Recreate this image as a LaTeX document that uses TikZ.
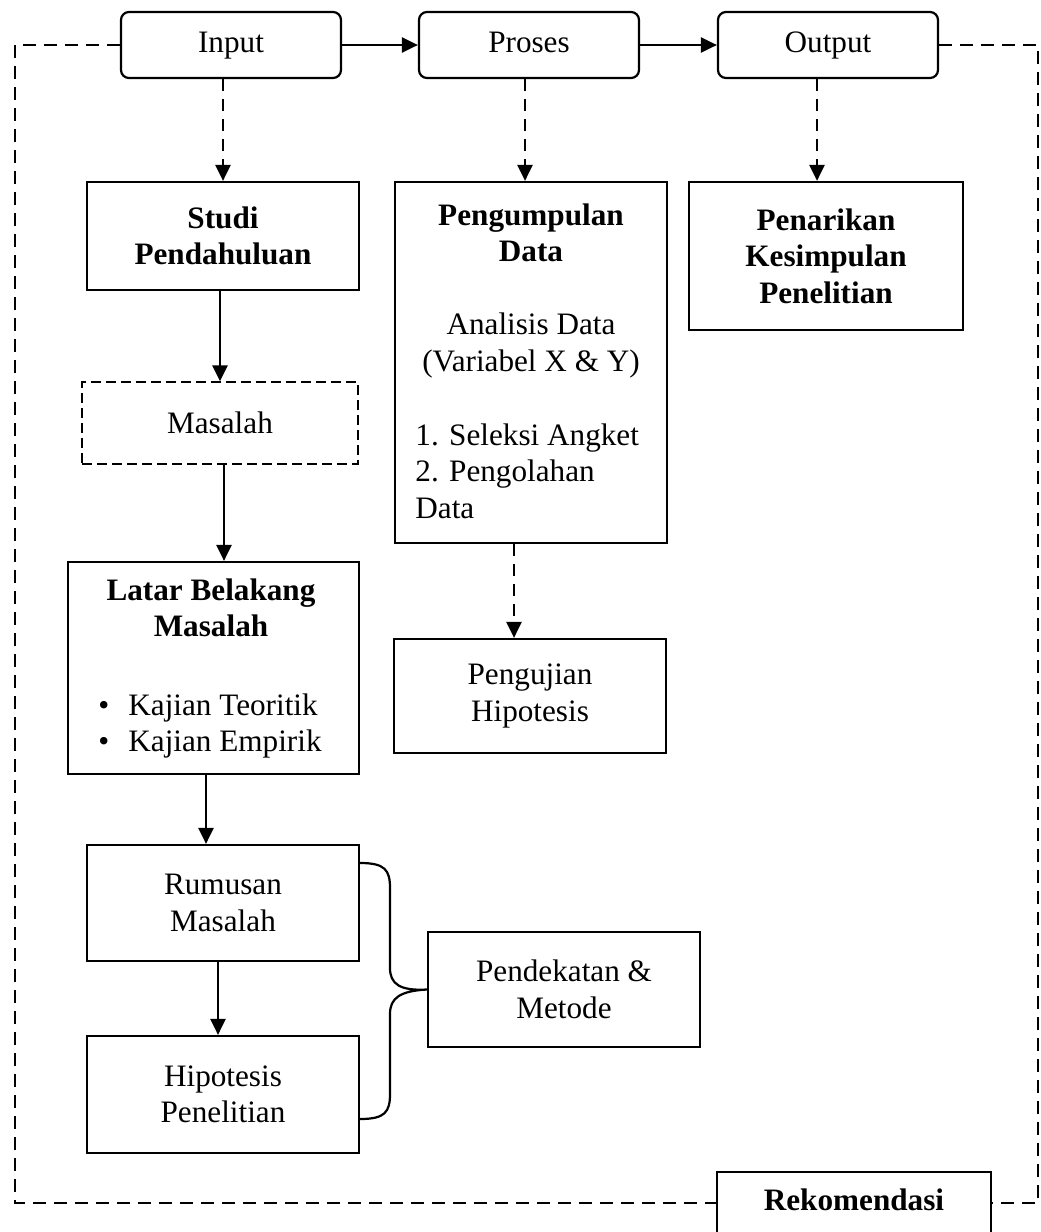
\documentclass[tikz,border=0pt]{standalone}
\usepackage{fontspec}
\setmainfont{Liberation Serif}
\usetikzlibrary{arrows.meta}
\newcommand\dfont{\fontsize{15.6}{18.3}\selectfont}
\begin{document}
\begin{tikzpicture}[x=0.5pt,y=-0.5pt,
  every node/.style={font=\dfont, inner sep=0pt},
  box/.style={draw, line width=1.1pt, align=center},
  bbox/.style={box, font=\dfont\bfseries},
  rbox/.style={box, rounded corners=4pt, text height=11pt, text depth=3.5pt},
  dbox/.style={draw, line width=0.7pt, dash pattern=on 5pt off 2.5pt, align=center},
  txt/.style={align=center},
  btxt/.style={align=center, font=\dfont\bfseries},
  ltxt/.style={align=left},
  arr/.style={line width=1.3pt, -{Triangle[length=8pt,width=7.5pt]}},
  darr/.style={arr, dash pattern=on 6pt off 4pt},
  outer/.style={line width=1.1pt, dash pattern=on 6.5pt off 4pt},
  brace/.style={line width=1.1pt}
]
\clip (0,0) rectangle (1040,1232);
\fill[white] (0,0) rectangle (1040,1232);

% top row
\node[rbox, minimum width=110pt, minimum height=33pt] (input)  at (231,45) {Input};
\node[rbox, minimum width=110pt, minimum height=33pt] (proses) at (529,45) {Proses};
\node[rbox, minimum width=110pt, minimum height=33pt] (output) at (828,45) {Output};

% left column
\node[bbox, minimum width=136pt, minimum height=54pt] (studi) at (223,236) {Studi\\Pendahuluan};
\node[dbox, minimum width=138pt, minimum height=41pt] (masalah) at (220,423) {Masalah};
\node[box, minimum width=145.5pt, minimum height=106pt] (latar) at (213.5,668) {};
\node[btxt, anchor=north] (latarT) at (211,578) {Latar Belakang\\Masalah};
\node[ltxt, anchor=north west] (latarL) at (98,693) {\makebox[15pt][l]{\textbullet}Kajian Teoritik\\\makebox[15pt][l]{\textbullet}Kajian Empirik};
\node[box, minimum width=136pt, minimum height=58pt] (rumusan) at (223,903) {Rumusan\\Masalah};
\node[box, minimum width=136pt, minimum height=58.5pt] (hipotesis) at (223,1094.5) {Hipotesis\\Penelitian};

% middle column
\node[box, minimum width=136pt, minimum height=180.5pt] (kumpul) at (531,362.5) {};
\node[txt, anchor=north] (kumpulT) at (531,203) {\textbf{Pengumpulan}\\\textbf{Data}\\[18.3pt]Analisis Data\\(Variabel X \& Y)};
\node[ltxt, anchor=north west] (kumpulL) at (415,423) {1. Seleksi Angket\\2. Pengolahan\\Data};
\node[box, minimum width=136pt, minimum height=57pt] (uji) at (530,696) {Pengujian\\Hipotesis};
\node[box, minimum width=136pt, minimum height=57.5pt] (metode) at (564,989.5) {Pendekatan \&\\Metode};

% right column
\node[bbox, minimum width=137pt, minimum height=74pt] (tarik) at (826,256) {Penarikan\\Kesimpulan\\Penelitian};
\node[bbox, minimum width=137pt, minimum height=31pt, text height=11pt, text depth=3.5pt] (rekom) at (854,1203) {Rekomendasi};

% outer dashed frame
\coordinate (tl) at (15,45);
\coordinate (tr) at (1038,45);
\draw[outer] (input.west) -- (tl) -- (tl |- rekom.west) -- (rekom.west);
\draw[outer] (output.east) -- (tr) -- (tr |- rekom.east) -- (rekom.east);

% top arrows
\draw[arr] (input.east) -- (proses.west);
\draw[arr] (proses.east) -- (output.west);
\draw[darr] ([xshift=-4pt]input.south) -- ([xshift=-4pt]input.south |- studi.north);
\draw[darr] ([xshift=-2pt]proses.south) -- ([xshift=-2pt]proses.south |- kumpul.north);
\draw[darr] ([xshift=-5.5pt]output.south) -- ([xshift=-5.5pt]output.south |- tarik.north);

% left chain
\draw[arr] (masalah.north |- studi.south) -- (masalah.north);
\draw[arr] ([xshift=2pt]masalah.south) -- ([xshift=2pt]masalah.south |- latar.north);
\draw[arr] ([xshift=-3.75pt]latar.south) -- ([xshift=-3.75pt]latar.south |- rumusan.north);
\draw[arr] ([xshift=-2.5pt]rumusan.south) -- ([xshift=-2.5pt]rumusan.south |- hipotesis.north);

% middle chain
\draw[darr] ([xshift=-8.5pt]kumpul.south) -- ([xshift=-8.5pt]kumpul.south |- uji.north);

% brace
\draw[brace] (rumusan.east |- 0,863) .. controls (385,863) and (390,870) .. (390,888)
  -- (390,968) .. controls (390,984) and (400,991) .. (metode.west)
  .. controls (400,991) and (390,998) .. (390,1014)
  -- (390,1094) .. controls (390,1112) and (385,1119) .. (hipotesis.east |- 0,1119);
\end{tikzpicture}
\end{document}
